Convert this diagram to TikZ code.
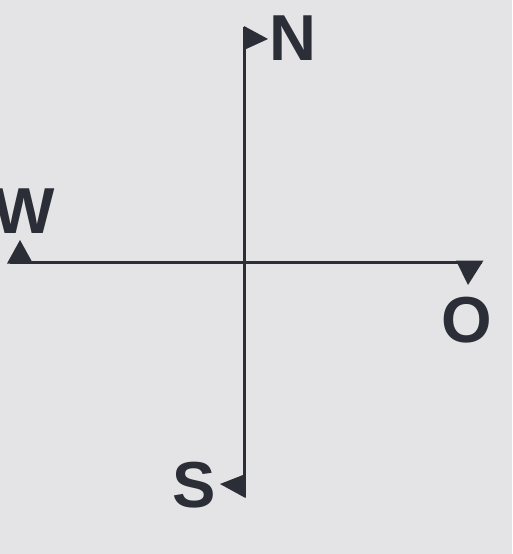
\documentclass[tikz,border=0pt]{standalone}
\usepackage{fontspec}
\setmainfont{Liberation Sans}
\begin{document}
\begin{tikzpicture}[x=1pt,y=-1pt,
  axis/.style={draw=linec,line width=3pt},
  flag/.style={fill=linec,draw=none},
  lbl/.style={text=linec,font=\fontsize{65}{65}\selectfont\bfseries,inner sep=0pt}]
\definecolor{bgc}{HTML}{E4E4E6}
\definecolor{linec}{HTML}{2B2E36}
\fill[bgc] (0,0) rectangle (512,554);
\useasboundingbox (0,0) rectangle (512,554);
\coordinate (top) at (244,27);
\coordinate (bot) at (244,497);
\coordinate (lft) at (10,262);
\coordinate (rgt) at (482,262);
\draw[axis] (top) -- (bot);
\draw[axis] (lft) -- (rgt);
\fill[flag] (244,26) -- (268,39) -- (244,50) -- cycle;
\fill[flag] (7,263.5) -- (20,240) -- (33,263.5) -- cycle;
\fill[flag] (456,260.5) -- (483.5,260.5) -- (468,285) -- cycle;
\fill[flag] (245.5,474) -- (220,484) -- (245.5,498) -- cycle;
\node[lbl] (N) at (293,38.5) {N};
\node[lbl] (W) at (24,211.5) {W};
\node[lbl] (O) at (467,320) {O};
\node[lbl] (S) at (194,485) {S};
\end{tikzpicture}
\end{document}
